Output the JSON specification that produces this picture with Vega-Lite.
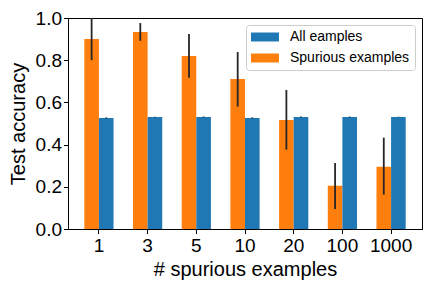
{
  "$schema": "https://vega.github.io/schema/vega-lite/v6.json",
  "width": 354,
  "height": 211,
  "autosize": {"type": "none"},
  "padding": {"left": 68, "top": 18, "right": 10, "bottom": 59},
  "background": "white",
  "config": {
    "font": "Liberation Sans",
    "view": {"stroke": "black", "strokeWidth": 1},
    "axis": {
      "grid": false,
      "domainColor": "black",
      "tickColor": "black",
      "labelColor": "black",
      "titleColor": "black",
      "labelFont": "Liberation Sans",
      "titleFont": "Liberation Sans",
      "labelFontSize": 19,
      "titleFontSize": 20,
      "titleFontWeight": "normal",
      "tickSize": 4.5
    }
  },
  "data": {
    "values": [
      {"n": "1", "series": "Spurious examples", "acc": 0.900, "lo": 0.800, "hi": 1.000},
      {"n": "3", "series": "Spurious examples", "acc": 0.934, "lo": 0.892, "hi": 0.976},
      {"n": "5", "series": "Spurious examples", "acc": 0.820, "lo": 0.717, "hi": 0.924},
      {"n": "10", "series": "Spurious examples", "acc": 0.711, "lo": 0.580, "hi": 0.839},
      {"n": "20", "series": "Spurious examples", "acc": 0.517, "lo": 0.376, "hi": 0.659},
      {"n": "100", "series": "Spurious examples", "acc": 0.205, "lo": 0.095, "hi": 0.313},
      {"n": "1000", "series": "Spurious examples", "acc": 0.295, "lo": 0.163, "hi": 0.433},
      {"n": "1", "series": "All eamples", "acc": 0.526, "lo": 0.524, "hi": 0.529},
      {"n": "3", "series": "All eamples", "acc": 0.531, "lo": 0.530, "hi": 0.532},
      {"n": "5", "series": "All eamples", "acc": 0.531, "lo": 0.529, "hi": 0.533},
      {"n": "10", "series": "All eamples", "acc": 0.526, "lo": 0.524, "hi": 0.529},
      {"n": "20", "series": "All eamples", "acc": 0.531, "lo": 0.529, "hi": 0.533},
      {"n": "100", "series": "All eamples", "acc": 0.531, "lo": 0.529, "hi": 0.533},
      {"n": "1000", "series": "All eamples", "acc": 0.531, "lo": 0.530, "hi": 0.532}
    ]
  },
  "encoding": {
    "x": {
      "field": "n",
      "type": "nominal",
      "sort": ["1", "3", "5", "10", "20", "100", "1000"],
      "scale": {"paddingInner": 0.4, "paddingOuter": 0.335},
      "axis": {"labelAngle": 0, "title": "# spurious examples", "labelPadding": 3, "titlePadding": 4}
    },
    "xOffset": {
      "field": "series",
      "type": "nominal",
      "scale": {"domain": ["Spurious examples", "All eamples"], "paddingInner": 0, "paddingOuter": 0}
    }
  },
  "layer": [
    {
      "mark": {"type": "bar"},
      "encoding": {
        "y": {
          "field": "acc",
          "type": "quantitative",
          "scale": {"domain": [0, 1], "nice": false, "zero": true},
          "axis": {"title": "Test accuracy", "values": [0, 0.2, 0.4, 0.6, 0.8, 1.0], "format": ".1f", "labelPadding": 2, "titlePadding": 7}
        },
        "color": {
          "field": "series",
          "type": "nominal",
          "scale": {"domain": ["All eamples", "Spurious examples"], "range": ["#1f77b4", "#ff7f0e"]},
          "legend": {
            "title": null,
            "orient": "top-right",
            "offset": 7,
            "padding": 5,
            "strokeColor": "#cccccc",
            "fillColor": "white",
            "cornerRadius": 3,
            "symbolType": "M-1,-0.64H3V0.64H-1Z",
            "symbolSize": 196,
            "symbolStrokeWidth": 0,
            "symbolOpacity": 1,
            "labelFontSize": 14,
            "labelFont": "Liberation Sans",
            "labelColor": "black",
            "labelOffset": 25,
            "rowPadding": 7
          }
        }
      }
    },
    {
      "mark": {"type": "rule", "color": "#262626", "strokeWidth": 1.8},
      "encoding": {
        "y": {"field": "lo", "type": "quantitative"},
        "y2": {"field": "hi"}
      }
    }
  ]
}
